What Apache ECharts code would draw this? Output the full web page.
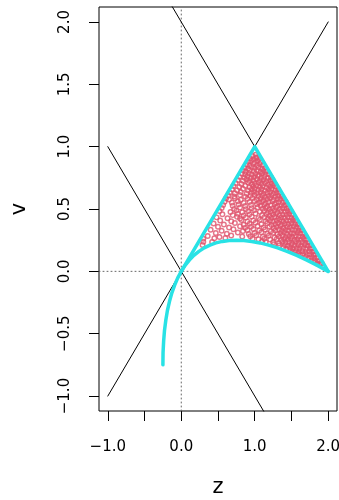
<!DOCTYPE html>
<html>
<head>
<meta charset="utf-8">
<script src="https://cdn.jsdelivr.net/npm/echarts@6/dist/echarts.min.js"></script>
<style>
html,body{margin:0;padding:0;background:#fff;}
#c{width:339px;height:500px;}
</style>
</head>
<body>
<div id="c"></div>
<script>
// axis ranges and ticks
const xRange = [-1.12, 2.12];
const yRange = [-1.12, 2.12];
const xTickValues = [-1, -0.5, 0, 0.5, 1, 1.5, 2];
const xLabelValues = [-1, 0, 1, 2];
const yTickValues = [-1, -0.5, 0, 0.5, 1, 1.5, 2];

// reference lines
const lineVeqZ = [[-1, -1], [2, 2]];
const lineVeqMinusZ = [[-1, 1], [1.2, -1.2]];
const lineVeqTwoMinusZ = [[-0.2, 2.2], [2, 0]];
const dottedVertical = [[0, -1.12], [0, 2.12]];
const dottedHorizontal = [[-1.12, 0], [2.12, 0]];

// cyan boundary
const triangleEdge = [[0, 0], [1, 1], [2, 0]];
const boundaryCurve = [
  [-0.25, -0.75], [-0.248, -0.652], [-0.24, -0.56], [-0.228, -0.472], [-0.21, -0.39],
  [-0.188, -0.312], [-0.16, -0.24], [-0.128, -0.172], [-0.09, -0.11], [-0.048, -0.052],
  [0, 0], [0.052, 0.048], [0.11, 0.09], [0.172, 0.128], [0.24, 0.16], [0.312, 0.188],
  [0.39, 0.21], [0.472, 0.228], [0.56, 0.24], [0.652, 0.248], [0.75, 0.25], [0.852, 0.248],
  [0.96, 0.24], [1.072, 0.228], [1.19, 0.21], [1.312, 0.188], [1.44, 0.16], [1.572, 0.128],
  [1.71, 0.09], [1.852, 0.048], [2, 0]
];

// red sample points (z, v)
const samplePoints = [
  [0.97,0.925],[1.01,0.935],[1.03,0.915],
  [0.94,0.905],[0.98,0.898],[1.02,0.91],[1.06,0.9],
  [0.91,0.878],[0.95,0.885],[1.00,0.872],[1.04,0.887],[1.08,0.876],
  [0.89,0.857],[0.93,0.848],[0.98,0.862],[1.03,0.851],[1.07,0.86],[1.11,0.852],
  [0.86,0.832],[0.91,0.825],[0.96,0.838],[1.00,0.828],[1.05,0.834],[1.10,0.822],[1.14,0.83],
  [0.84,0.808],[0.88,0.799],[0.93,0.811],[0.99,0.802],[1.03,0.81],[1.08,0.798],[1.12,0.806],[1.16,0.8],
  [0.82,0.784],[0.87,0.776],[0.92,0.787],[0.96,0.775],[1.01,0.783],[1.06,0.772],[1.10,0.786],[1.15,0.778],[1.19,0.781],
  [0.79,0.758],[0.86,0.75],[0.90,0.762],[0.95,0.749],[0.99,0.757],[1.04,0.764],[1.09,0.751],[1.13,0.759],[1.18,0.748],[1.22,0.754],
  [0.77,0.733],[0.84,0.726],[0.89,0.737],[0.93,0.724],[0.98,0.731],[1.03,0.739],[1.07,0.727],[1.12,0.735],[1.16,0.722],[1.21,0.73],[1.24,0.736],
  [0.74,0.708],[0.82,0.701],[0.91,0.712],[0.96,0.699],[1.00,0.707],[1.05,0.714],[1.09,0.702],[1.14,0.709],[1.18,0.697],[1.23,0.706],[1.27,0.703],
  [0.71,0.684],[0.79,0.676],[0.87,0.687],[0.93,0.674],[0.98,0.682],[1.02,0.689],[1.07,0.677],[1.11,0.685],[1.16,0.672],[1.21,0.68],[1.25,0.688],[1.29,0.678],
  [0.69,0.658],[0.76,0.651],[0.84,0.662],[0.91,0.649],[0.96,0.657],[1.00,0.664],[1.05,0.652],[1.09,0.659],[1.14,0.647],[1.19,0.656],[1.23,0.663],[1.28,0.65],[1.32,0.657],
  [0.66,0.633],[0.73,0.626],[0.81,0.637],[0.89,0.624],[0.95,0.631],[0.99,0.638],[1.03,0.627],[1.08,0.635],[1.12,0.622],[1.17,0.63],[1.21,0.637],[1.26,0.625],[1.30,0.632],[1.34,0.628],
  [0.64,0.608],[0.72,0.601],[0.80,0.612],[0.87,0.599],[0.94,0.606],[1.00,0.613],[1.05,0.602],[1.10,0.609],[1.14,0.597],[1.19,0.605],[1.23,0.612],[1.28,0.6],[1.32,0.607],[1.37,0.603],
  [0.61,0.584],[0.65,0.576],[0.73,0.587],[0.81,0.574],[0.90,0.582],[0.97,0.589],[1.03,0.577],[1.08,0.585],[1.12,0.572],[1.17,0.58],[1.21,0.588],[1.26,0.575],[1.31,0.583],[1.35,0.578],[1.39,0.586],
  [0.59,0.558],[0.69,0.551],[0.77,0.562],[0.85,0.549],[0.93,0.557],[1.00,0.564],[1.06,0.552],[1.10,0.559],[1.15,0.547],[1.19,0.556],[1.24,0.563],[1.29,0.55],[1.33,0.557],[1.38,0.553],[1.42,0.561],
  [0.57,0.533],[0.70,0.526],[0.78,0.537],[0.87,0.524],[0.95,0.532],[1.03,0.539],[1.08,0.527],[1.13,0.535],[1.17,0.522],[1.22,0.53],[1.27,0.538],[1.31,0.525],[1.36,0.533],[1.40,0.528],[1.44,0.536],
  [0.55,0.508],[0.72,0.501],[0.80,0.512],[0.88,0.499],[0.96,0.507],[1.04,0.514],[1.11,0.502],[1.15,0.509],[1.20,0.497],[1.24,0.505],[1.29,0.513],[1.34,0.5],[1.38,0.508],[1.43,0.503],[1.46,0.511],
  [0.52,0.484],[0.67,0.476],[0.75,0.487],[0.83,0.474],[0.91,0.482],[0.99,0.489],[1.07,0.477],[1.13,0.485],[1.18,0.472],[1.22,0.48],[1.27,0.488],[1.31,0.475],[1.36,0.483],[1.41,0.478],[1.45,0.486],[1.49,0.48],
  [0.56,0.458],[0.70,0.451],[0.77,0.462],[0.85,0.449],[0.93,0.457],[1.01,0.464],[1.10,0.452],[1.16,0.459],[1.20,0.447],[1.25,0.456],[1.29,0.463],[1.34,0.45],[1.38,0.457],[1.43,0.453],[1.47,0.461],[1.51,0.455],
  [0.48,0.433],[0.63,0.426],[0.76,0.437],[0.80,0.424],[0.88,0.432],[0.96,0.439],[1.05,0.427],[1.13,0.435],[1.18,0.422],[1.23,0.43],[1.27,0.438],[1.32,0.425],[1.36,0.433],[1.41,0.428],[1.45,0.436],[1.50,0.43],[1.54,0.427],
  [0.53,0.408],[0.68,0.401],[0.82,0.412],[0.90,0.399],[0.98,0.407],[1.07,0.414],[1.15,0.402],[1.21,0.409],[1.25,0.397],[1.30,0.405],[1.34,0.413],[1.39,0.4],[1.43,0.408],[1.48,0.403],[1.52,0.411],[1.56,0.405],
  [0.44,0.384],[0.58,0.376],[0.73,0.387],[0.85,0.374],[0.93,0.382],[1.01,0.389],[1.09,0.377],[1.17,0.385],[1.23,0.372],[1.28,0.38],[1.32,0.388],[1.37,0.375],[1.41,0.383],[1.46,0.378],[1.50,0.386],[1.55,0.38],[1.59,0.377],
  [0.50,0.358],[0.65,0.351],[0.80,0.362],[0.87,0.349],[0.95,0.357],[1.04,0.364],[1.12,0.352],[1.20,0.359],[1.26,0.347],[1.30,0.356],[1.35,0.363],[1.39,0.35],[1.44,0.357],[1.48,0.353],[1.53,0.361],[1.57,0.355],[1.61,0.352],
  [0.40,0.333],[0.55,0.326],[0.71,0.337],[0.84,0.324],[0.90,0.332],[0.98,0.339],[1.06,0.327],[1.14,0.335],[1.22,0.322],[1.28,0.33],[1.33,0.338],[1.37,0.325],[1.42,0.333],[1.46,0.328],[1.51,0.336],[1.55,0.33],[1.60,0.327],[1.64,0.334],
  [0.47,0.308],[0.62,0.301],[0.77,0.312],[0.92,0.299],[1.00,0.307],[1.09,0.314],[1.17,0.302],[1.25,0.309],[1.31,0.297],[1.35,0.305],[1.40,0.313],[1.44,0.3],[1.49,0.308],[1.53,0.303],[1.58,0.311],[1.62,0.305],[1.66,0.302],
  [0.36,0.284],[0.52,0.276],[0.68,0.287],[0.83,0.279],[0.94,0.282],[1.02,0.289],[1.11,0.277],[1.19,0.285],[1.27,0.272],[1.33,0.28],[1.38,0.288],[1.42,0.275],[1.47,0.283],[1.51,0.278],[1.56,0.286],[1.60,0.28],[1.65,0.277],[1.69,0.284],
  [0.30,0.262],[0.45,0.266],[0.60,0.268],[0.97,0.262],[1.05,0.258],[1.13,0.261],[1.21,0.255],[1.30,0.259],[1.36,0.252],[1.40,0.26],[1.45,0.256],[1.49,0.263],[1.54,0.251],[1.58,0.258],[1.63,0.254],[1.67,0.261],[1.71,0.255],
  [0.30,0.238],[0.42,0.235],[1.10,0.24],[1.15,0.236],[1.25,0.233],[1.33,0.226],[1.38,0.238],[1.42,0.231],[1.47,0.235],[1.51,0.228],[1.56,0.237],[1.60,0.23],[1.65,0.234],[1.69,0.227],[1.73,0.233],
  [0.29,0.212],[1.26,0.218],[1.33,0.207],[1.41,0.212],[1.45,0.205],[1.50,0.214],[1.54,0.207],[1.59,0.211],[1.63,0.204],[1.68,0.213],[1.72,0.208],[1.76,0.21],
  [1.39,0.19],[1.43,0.182],[1.48,0.189],[1.52,0.181],[1.57,0.188],[1.61,0.183],[1.66,0.187],[1.70,0.18],[1.75,0.186],[1.78,0.182],
  [1.49,0.168],[1.52,0.158],[1.56,0.164],[1.60,0.157],[1.65,0.162],[1.69,0.155],[1.74,0.161],[1.78,0.156],[1.81,0.16],
  [1.59,0.142],[1.62,0.133],[1.66,0.139],[1.71,0.132],[1.75,0.138],[1.80,0.131],[1.83,0.135],
  [1.69,0.115],[1.73,0.108],[1.77,0.114],[1.81,0.107],[1.85,0.111],
  [1.77,0.088],[1.81,0.083],[1.85,0.087],[1.88,0.082],
  [1.85,0.063],[1.89,0.058],[1.915,0.062],
  [1.93,0.04]
];

const FONT = 'DejaVu Sans';
const fmt = v => (v < 0 ? '\u2212' : '') + Math.abs(v).toFixed(1);

function lineSeries(data, color, width, type) {
  return {
    type: 'line', data: data, symbol: 'none', showSymbol: false,
    lineStyle: { color: color, width: width, type: type || 'solid', cap: 'round', join: 'round' },
    silent: true, clip: true, animation: false
  };
}

const chart = echarts.init(document.getElementById('c'), null, { renderer: 'canvas' });
chart.setOption({
  animation: false,
  backgroundColor: '#fff',
  grid: {
    left: 99, right: 2, top: 7, bottom: 89,
    outerBoundsMode: 'none', containLabel: false,
    show: true, borderColor: '#000', borderWidth: 1, backgroundColor: 'transparent'
  },
  xAxis: {
    type: 'value', min: xRange[0], max: xRange[1],
    name: 'z', nameLocation: 'middle', nameGap: 66,
    nameTextStyle: { fontFamily: FONT, fontSize: 21, color: '#000' },
    axisLine: { show: false, onZero: false },
    splitLine: { show: false },
    axisTick: { show: true, inside: false, length: 10, customValues: xTickValues, lineStyle: { color: '#000', width: 1 } },
    axisLabel: { show: true, customValues: xLabelValues, formatter: fmt, margin: 29, fontFamily: FONT, fontSize: 15, color: '#000', hideOverlap: false }
  },
  yAxis: {
    type: 'value', min: yRange[0], max: yRange[1],
    name: 'v', nameLocation: 'middle', nameGap: 69, nameRotate: 90,
    nameTextStyle: { fontFamily: FONT, fontSize: 21, color: '#000' },
    axisLine: { show: false, onZero: false },
    splitLine: { show: false },
    axisTick: { show: true, inside: false, length: 10, customValues: yTickValues, lineStyle: { color: '#000', width: 1 } },
    axisLabel: { show: true, customValues: yTickValues, formatter: fmt, rotate: 90, margin: 26, fontFamily: FONT, fontSize: 15, color: '#000', hideOverlap: false }
  },
  series: [
    lineSeries(dottedVertical, '#666', 1, [1, 3]),
    lineSeries(dottedHorizontal, '#666', 1, [1, 3]),
    lineSeries(lineVeqZ, '#000', 1),
    lineSeries(lineVeqMinusZ, '#000', 1),
    lineSeries(lineVeqTwoMinusZ, '#000', 1),
    {
      type: 'scatter', data: samplePoints, symbol: 'circle', symbolSize: 4.5,
      itemStyle: { color: 'rgba(0,0,0,0)', borderColor: '#DF536B', borderWidth: 1.45 },
      silent: true, animation: false
    },
    lineSeries(triangleEdge, '#28E2E5', 3.5),
    lineSeries(boundaryCurve, '#28E2E5', 3.5)
  ]
});
</script>
</body>
</html>
